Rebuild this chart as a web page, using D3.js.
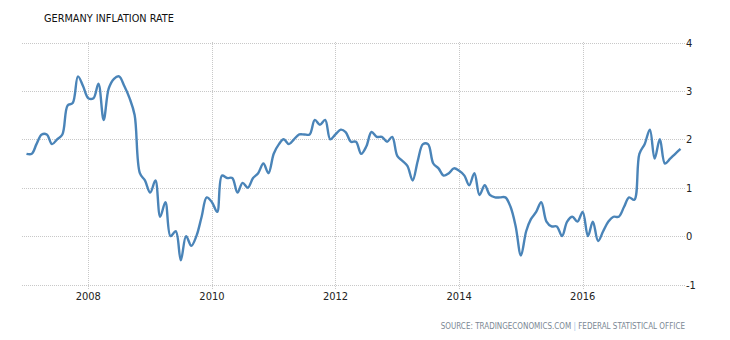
<!DOCTYPE html>
<html>
<head>
<meta charset="utf-8">
<script src="https://cdn.jsdelivr.net/npm/d3@7"></script>
<style>
  body { margin: 0; background: #fff; }
  text { font-family: "DejaVu Sans Condensed", "DejaVu Sans", sans-serif; font-stretch: condensed; }
</style>
</head>
<body>
<div id="root"></div>
<script>
const width = 730
const height = 340

// monthly CPI yoy %, Jan 2007 .. Aug 2017
const v2007 = [1.7, 1.7, 1.9, 2.1, 2.1, 1.9, 2.0, 2.1, 2.7, 2.75, 3.3, 3.1]
const v2008 = [2.85, 2.85, 3.15, 2.4, 3.05, 3.25, 3.3, 3.1, 2.85, 2.5, 1.3, 1.15]
const v2009 = [0.9, 1.15, 0.4, 0.7, 0.0, 0.1, -0.5, 0.0, -0.2, 0.0, 0.4, 0.8]
const v2010 = [0.7, 0.5, 1.25, 1.2, 1.2, 0.9, 1.1, 1.0, 1.2, 1.3, 1.5, 1.3]
const v2011 = [1.7, 1.9, 2.0, 1.9, 2.0, 2.1, 2.1, 2.1, 2.4, 2.3, 2.4, 2.0]
const v2012 = [2.1, 2.2, 2.15, 1.95, 1.95, 1.7, 1.85, 2.15, 2.05, 2.05, 1.95, 2.05]
const v2013 = [1.65, 1.55, 1.45, 1.15, 1.55, 1.9, 1.9, 1.5, 1.4, 1.25, 1.3, 1.4]
const v2014 = [1.35, 1.25, 1.05, 1.3, 0.85, 1.05, 0.85, 0.8, 0.8, 0.8, 0.6, 0.2]
const v2015 = [-0.4, 0.1, 0.35, 0.5, 0.7, 0.3, 0.2, 0.2, 0.0, 0.3, 0.4, 0.3]
const v2016 = [0.5, 0.0, 0.3, -0.1, 0.1, 0.3, 0.4, 0.4, 0.6, 0.8, 0.75, 1.7]
const v2017 = [1.9, 2.2, 1.6, 2.0, 1.5, 1.6, 1.7, 1.8]

const yearTicks = ['2008', '2010', '2012', '2014', '2016']
const yTicks = [-1, 0, 1, 2, 3, 4]

const values = [].concat(v2007, v2008, v2009, v2010, v2011, v2012, v2013, v2014, v2015, v2016, v2017)
const data = values.map((v, i) => ({ date: new Date(2007, i, 1), value: v }))

const svg = d3.select('#root').append('svg')
  .attr('width', width)
  .attr('height', height)

const x = d3.scaleTime()
  .domain([data[0].date, data[data.length - 1].date])
  .range([26.5, 680.5])

const y = d3.scaleLinear()
  .domain([-1, 4])
  .range([284.5, 42.5])

const grid = svg.append('g')
  .attr('stroke', '#c8c8c8')
  .attr('stroke-dasharray', '1,1')
  .attr('shape-rendering', 'crispEdges')

grid.selectAll('.h').data(yTicks).join('line')
  .attr('x1', 22).attr('x2', 686)
  .attr('y1', d => Math.round(y(d)) + 0.5).attr('y2', d => Math.round(y(d)) + 0.5)

grid.selectAll('.v').data(yearTicks).join('line')
  .attr('x1', d => Math.round(x(new Date(+d, 0, 1))) + 0.5)
  .attr('x2', d => Math.round(x(new Date(+d, 0, 1))) + 0.5)
  .attr('y1', 42).attr('y2', 289)

svg.append('g').selectAll('text').data(yTicks).join('text')
  .attr('x', 686)
  .attr('y', d => y(d) + 4)
  .attr('font-size', 11)
  .attr('fill', '#222')
  .text(d => d)

svg.append('g').selectAll('text').data(yearTicks).join('text')
  .attr('x', d => x(new Date(+d, 0, 1)))
  .attr('y', 300)
  .attr('text-anchor', 'middle')
  .attr('font-size', 11)
  .attr('fill', '#222')
  .text(d => d)

const line = d3.line()
  .x(d => x(d.date))
  .y(d => y(d.value))
  .curve(d3.curveCatmullRom.alpha(0.5))

svg.append('path')
  .datum(data)
  .attr('fill', 'none')
  .attr('stroke', '#4a84b8')
  .attr('stroke-width', 2.4)
  .attr('stroke-linejoin', 'round')
  .attr('d', line)

svg.append('text')
  .attr('x', 44)
  .attr('y', 22)
  .attr('font-size', 10.8)
  .attr('fill', '#111')
  .text('GERMANY INFLATION RATE')

const src = svg.append('text')
  .attr('x', 685)
  .attr('y', 329)
  .attr('text-anchor', 'end')
  .attr('font-size', 8)
  .attr('fill', '#7b8794')
src.append('tspan').text('SOURCE: TRADINGECONOMICS.COM ')
src.append('tspan').attr('fill', '#9ec3e6').text('|')
src.append('tspan').text(' FEDERAL STATISTICAL OFFICE')
</script>
</body>
</html>
